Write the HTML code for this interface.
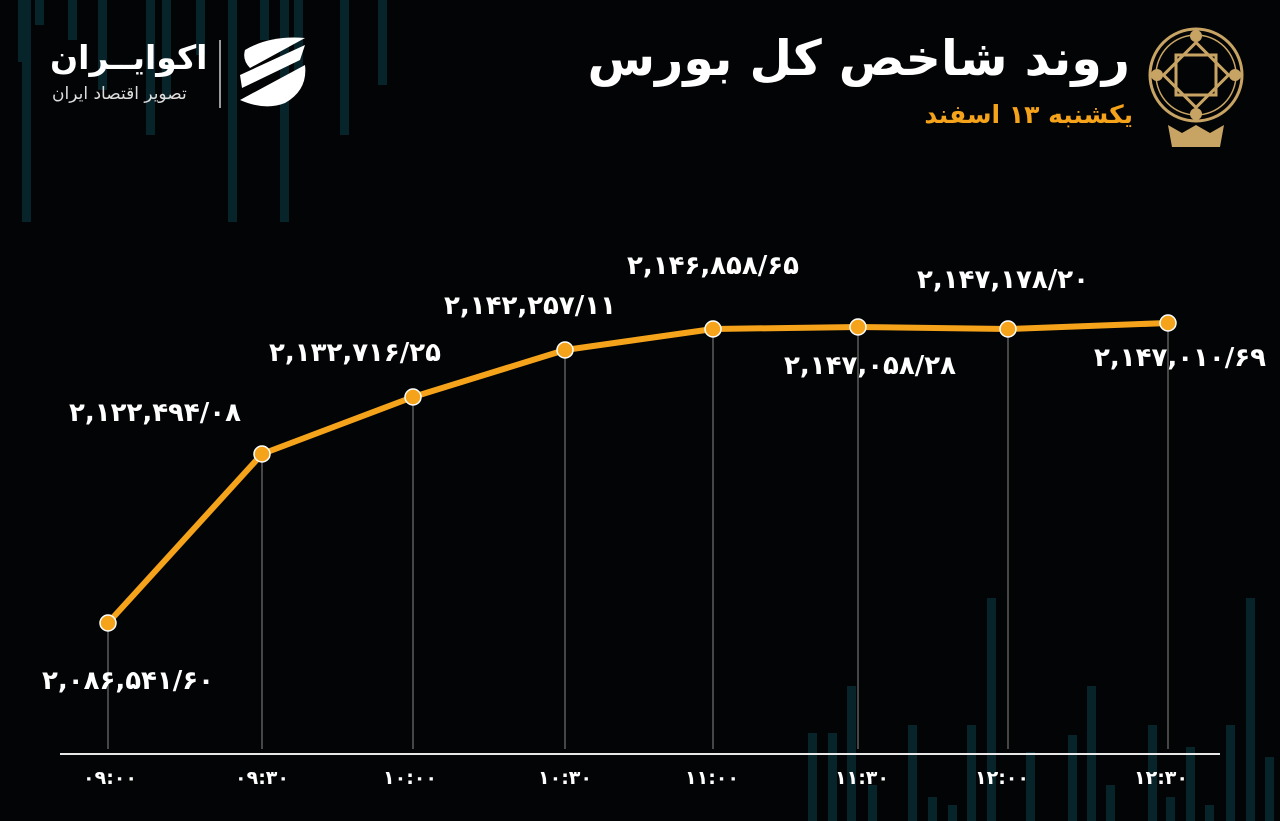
<!DOCTYPE html>
<html><head><meta charset="utf-8"><style>
html,body{margin:0;padding:0;background:#030405;}
#c{position:relative;width:1280px;height:821px;overflow:hidden;background:#030405;font-family:"DejaVu Sans","Liberation Sans","Noto Sans CJK SC",sans-serif;}
.b{position:absolute;background:#08242b;width:9px;}
.lab{position:absolute;color:#fff;font-weight:bold;font-size:26px;white-space:nowrap;transform:translateX(-50%);direction:ltr;unicode-bidi:bidi-override;}
.t{position:absolute;color:#fff;font-weight:bold;font-size:19px;white-space:nowrap;transform:translateX(-50%);direction:ltr;unicode-bidi:bidi-override;top:767px;}
</style></head><body><div id="c">
<div class="b" style="left:18px;top:0;height:62px"></div>
<div class="b" style="left:22px;top:0;height:222px"></div>
<div class="b" style="left:35px;top:0;height:25px"></div>
<div class="b" style="left:68px;top:0;height:40px"></div>
<div class="b" style="left:98px;top:0;height:90px"></div>
<div class="b" style="left:146px;top:0;height:135px"></div>
<div class="b" style="left:162px;top:0;height:100px"></div>
<div class="b" style="left:196px;top:0;height:55px"></div>
<div class="b" style="left:228px;top:0;height:222px"></div>
<div class="b" style="left:260px;top:0;height:40px"></div>
<div class="b" style="left:280px;top:0;height:222px"></div>
<div class="b" style="left:294px;top:0;height:80px"></div>
<div class="b" style="left:340px;top:0;height:135px"></div>
<div class="b" style="left:378px;top:0;height:85px"></div>
<div class="b" style="left:808px;top:733px;height:88px"></div>
<div class="b" style="left:828px;top:733px;height:88px"></div>
<div class="b" style="left:847px;top:686px;height:135px"></div>
<div class="b" style="left:868px;top:785px;height:36px"></div>
<div class="b" style="left:908px;top:725px;height:96px"></div>
<div class="b" style="left:928px;top:797px;height:24px"></div>
<div class="b" style="left:948px;top:805px;height:16px"></div>
<div class="b" style="left:967px;top:725px;height:96px"></div>
<div class="b" style="left:987px;top:598px;height:223px"></div>
<div class="b" style="left:1026px;top:752px;height:69px"></div>
<div class="b" style="left:1068px;top:735px;height:86px"></div>
<div class="b" style="left:1087px;top:686px;height:135px"></div>
<div class="b" style="left:1106px;top:785px;height:36px"></div>
<div class="b" style="left:1148px;top:725px;height:96px"></div>
<div class="b" style="left:1166px;top:797px;height:24px"></div>
<div class="b" style="left:1186px;top:747px;height:74px"></div>
<div class="b" style="left:1205px;top:805px;height:16px"></div>
<div class="b" style="left:1226px;top:725px;height:96px"></div>
<div class="b" style="left:1246px;top:598px;height:223px"></div>
<div class="b" style="left:1265px;top:757px;height:64px"></div>

<svg width="1280" height="821" style="position:absolute;left:0;top:0">
 <g stroke="#888" stroke-width="1">
  <line x1="108" y1="623" x2="108" y2="749"/><line x1="262" y1="454" x2="262" y2="749"/>
  <line x1="413" y1="397" x2="413" y2="749"/><line x1="565" y1="350" x2="565" y2="749"/>
  <line x1="713" y1="329" x2="713" y2="749"/><line x1="858" y1="327" x2="858" y2="749"/>
  <line x1="1008" y1="329" x2="1008" y2="749"/><line x1="1168" y1="323" x2="1168" y2="749"/>
 </g>
 <line x1="60" y1="754" x2="1220" y2="754" stroke="#e8e8e8" stroke-width="2"/>
 <polyline fill="none" stroke="#f5a31a" stroke-width="6" stroke-linejoin="round" points="108,623 262,454 413,397 565,350 713,329 858,327 1008,329 1168,323"/>
 <g fill="#f5a31a" stroke="#fff" stroke-width="1.5">
  <circle cx="108" cy="623" r="8"/><circle cx="262" cy="454" r="8"/><circle cx="413" cy="397" r="8"/>
  <circle cx="565" cy="350" r="8"/><circle cx="713" cy="329" r="8"/><circle cx="858" cy="327" r="8"/>
  <circle cx="1008" cy="329" r="8"/><circle cx="1168" cy="323" r="8"/>
 </g>
 <g stroke="#c8a464" fill="none">
  <circle cx="1196" cy="75" r="46" stroke-width="3"/>
  <circle cx="1196" cy="75" r="40" stroke-width="1.5"/>
  <rect x="1173" y="52" width="46" height="46" stroke-width="3" transform="rotate(45 1196 75)"/>
  <rect x="1176" y="55" width="40" height="40" stroke-width="3"/>
 </g>
 <g fill="#c8a464">
  <circle cx="1196" cy="36" r="6"/><circle cx="1196" cy="114" r="6"/><circle cx="1157" cy="75" r="6"/><circle cx="1235" cy="75" r="6"/>
  <path d="M1168 125 l14 8 l14 -8 l14 8 l14 -8 l-4 22 h-48z"/>
 </g>
 <g fill="#fff">
  <path d="M245 50 q25 -15 60 -12 l-55 30 q-8 -8 -5 -18z"/>
  <path d="M240 75 l65 -30 l-5 15 l-58 28z"/>
  <path d="M240 100 l65 -35 q3 25 -20 38 q-20 8 -45 -3z"/>
 </g>
 <line x1="220" y1="40" x2="220" y2="108" stroke="#ccc" stroke-width="1.5"/>
</svg>

<div style="position:absolute;left:50px;top:38px;color:#fff;font-weight:bold;font-size:33px;white-space:nowrap">اکوایــران</div>
<div style="position:absolute;left:52px;top:84px;color:#ddd;font-size:17px;white-space:nowrap;direction:rtl">تصویر اقتصاد ایران</div>

<div style="position:absolute;right:150px;top:30px;color:#fff;font-weight:bold;font-size:49px;direction:rtl;white-space:nowrap">روند شاخص کل بورس</div>
<div style="position:absolute;right:147px;top:100px;color:#f5a31a;font-weight:bold;font-size:25px;direction:rtl;white-space:nowrap">یکشنبه ۱۳ اسفند</div>

<div class="lab" style="left:128px;top:666px">۲,۰۸۶,۵۴۱/۶۰</div>
<div class="lab" style="left:155px;top:398px">۲,۱۲۲,۴۹۴/۰۸</div>
<div class="lab" style="left:355px;top:338px">۲,۱۳۲,۷۱۶/۲۵</div>
<div class="lab" style="left:530px;top:291px">۲,۱۴۲,۲۵۷/۱۱</div>
<div class="lab" style="left:713px;top:251px">۲,۱۴۶,۸۵۸/۶۵</div>
<div class="lab" style="left:870px;top:351px">۲,۱۴۷,۰۵۸/۲۸</div>
<div class="lab" style="left:1003px;top:265px">۲,۱۴۷,۱۷۸/۲۰</div>
<div class="lab" style="left:1180px;top:343px">۲,۱۴۷,۰۱۰/۶۹</div>

<div class="t" style="left:110px">۰۹:۰۰</div>
<div class="t" style="left:262px">۰۹:۳۰</div>
<div class="t" style="left:410px">۱۰:۰۰</div>
<div class="t" style="left:565px">۱۰:۳۰</div>
<div class="t" style="left:712px">۱۱:۰۰</div>
<div class="t" style="left:862px">۱۱:۳۰</div>
<div class="t" style="left:1002px">۱۲:۰۰</div>
<div class="t" style="left:1161px">۱۲:۳۰</div>
</div></body></html>
